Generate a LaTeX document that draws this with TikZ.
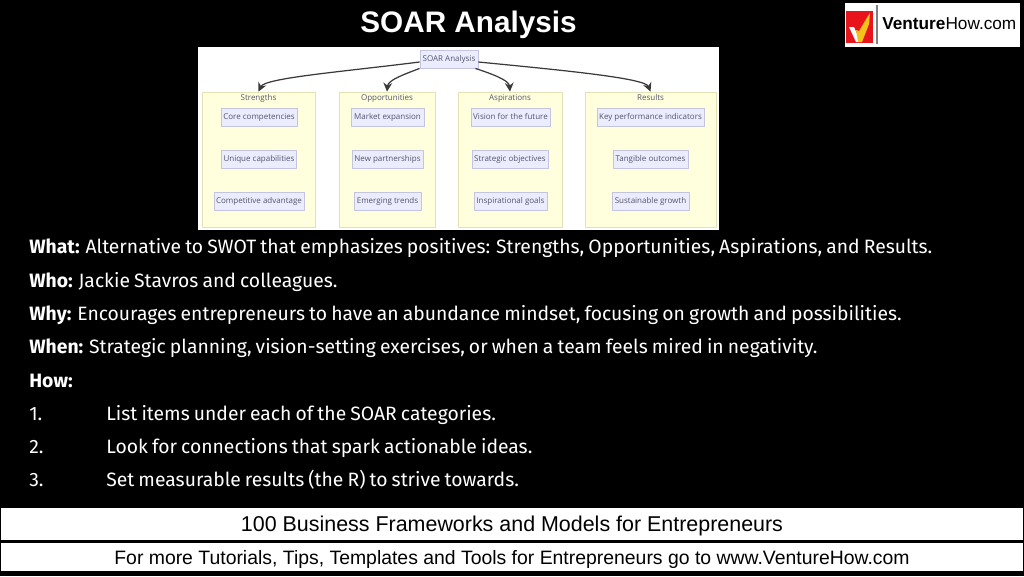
\documentclass[tikz,border=0pt]{standalone}
\usepackage{fontspec}
\setmainfont{Liberation Sans}
\newfontfamily\bodyfont{Open Sans}
\newfontfamily\linefont[WordSpace=0.8]{Fira Sans}
\usetikzlibrary{arrows.meta, positioning}
\definecolor{boxfill}{HTML}{ECECFF}
\definecolor{boxline}{HTML}{C4C4DE}
\definecolor{groupfill}{HTML}{FFFFDE}
\definecolor{groupline}{HTML}{E2E2B4}
\definecolor{boxtext}{HTML}{55556A}
\definecolor{edgecol}{HTML}{3A3A3A}
\definecolor{logored}{HTML}{E8141C}
\definecolor{logoyellow}{HTML}{F5C21A}

\tikzset{
	panel/.style={fill=white, draw=none, inner sep=0pt, outer sep=0pt},
	bar/.style={panel, minimum width=1022*0.02cm, text depth=0pt},
	itembox/.style={draw=boxline, fill=boxfill, line width=0.5pt, inner sep=0pt, minimum height=18*0.02cm, text height=3.5pt, text depth=1pt, text=boxtext, font=\bodyfont\fontsize{4.55}{6}\selectfont},
	groupbox/.style={draw=groupline, fill=groupfill, line width=0.5pt, inner sep=0pt, minimum height=135*0.02cm},
	grouptitle/.style={text=boxtext, inner sep=0pt, text height=3.5pt, text depth=1pt, font=\bodyfont\fontsize{4.55}{6}\selectfont},
	link/.style={draw=edgecol, line width=0.7pt, -{Stealth[length=5pt,width=5pt]}},
	bodyline/.style={anchor=base west, inner sep=0pt, text=white, font=\linefont\fontsize{11}{12}\selectfont},
}

\begin{document}
\begin{tikzpicture}[x=0.02cm, y=-0.02cm, line join=round]
	\useasboundingbox (0,0) rectangle (1024,576);
	\fill[black] (0,0) rectangle (1024,576);
	
	\node[text=white, inner sep=0pt, font=\fontsize{16.9}{18}\selectfont\bfseries] (title) at (468.5,25) {SOAR Analysis};
	
	% --- logo ---
	\node[panel, minimum width=175*0.02cm, minimum height=44*0.02cm] (logo) at (932.5,24.5) {};
	\fill[logored] (846,11) rectangle (873,43);
	\fill[white] (849,27) -- (854,27) -- (858,36) -- (859,42) -- (856,42) -- cycle;
	\fill[logoyellow] (858,42) -- (856,30) -- (859,31) -- (868,16) -- (870,13) -- (869,24) -- (862,42) -- cycle;
	\draw[gray, line width=0.6pt] (877,5) -- (877,44);
	\node[anchor=base west, inner sep=0pt, font=\fontsize{9.8}{12}\selectfont] (logotext) at (882,29) {\textbf{Venture}How.com};
	
	% --- diagram ---
	\node[panel, minimum width=521*0.02cm, minimum height=183*0.02cm] (sheet) at (458.5,138.5) {};
	
	\node[groupbox, minimum width=113*0.02cm] (strengths) at (258.5,159.5) {};
	\node[groupbox, minimum width=96*0.02cm] (opportunities) at (387,159.5) {};
	\node[groupbox, minimum width=104*0.02cm] (aspirations) at (510,159.5) {};
	\node[groupbox, minimum width=131*0.02cm] (results) at (650.5,159.5) {};
	
	\foreach \grp/\txt in {strengths/Strengths, opportunities/Opportunities, aspirations/Aspirations, results/Results}{
		\node[grouptitle, below=1.2pt of \grp.north] (\grp title) {\txt};
	}
	
	\node[itembox, minimum width=76*0.02cm] (core) at (259,117.5) {Core competencies};
	\node[itembox, minimum width=75*0.02cm] (unique) at (259,159) {Unique capabilities};
	\node[itembox, minimum width=90*0.02cm] (competitive) at (259,201) {Competitive advantage};
	
	\node[itembox, minimum width=73*0.02cm] (market) at (387.5,117.5) {Market expansion};
	\node[itembox, minimum width=71*0.02cm] (partners) at (387.5,159) {New partnerships};
	\node[itembox, minimum width=67*0.02cm] (emerging) at (387.5,201) {Emerging trends};
	
	\node[itembox, minimum width=79*0.02cm] (vision) at (510.5,117.5) {Vision for the future};
	\node[itembox, minimum width=76*0.02cm] (strategic) at (510,159) {Strategic objectives};
	\node[itembox, minimum width=73*0.02cm] (inspire) at (510.5,201) {Inspirational goals};
	
	\node[itembox, minimum width=107*0.02cm] (kpi) at (650.5,117.5) {Key performance indicators};
	\node[itembox, minimum width=75*0.02cm] (tangible) at (650.5,159) {Tangible outcomes};
	\node[itembox, minimum width=77*0.02cm] (sustain) at (650.5,201) {Sustainable growth};
	
	\node[itembox, minimum width=58*0.02cm] (soar) at (449,59) {SOAR Analysis};
	
	\draw[link] (soar.west) ++(0,3) .. controls (340,72) and (265,78) .. (strengths.north);
	\draw[link] (soar.south west) .. controls (405,74) and (388,80) .. (opportunities.north);
	\draw[link] (soar.south east) ++(-3,0) .. controls (492,74) and (509,80) .. (aspirations.north);
	\draw[link] (soar.east) ++(0,3) .. controls (560,70) and (645,78) .. (results.north);
	
	% --- text block ---
	\node[bodyline] (what) at (29,253) {\textbf{What:} Alternative to SWOT that emphasizes positives: Strengths, Opportunities, Aspirations, and Results.};
	\node[bodyline] (who) at (29,287) {\textbf{Who:} Jackie Stavros and colleagues.};
	\node[bodyline] (why) at (29,320) {\textbf{Why:} Encourages entrepreneurs to have an abundance mindset, focusing on growth and possibilities.};
	\node[bodyline] (when) at (29,353) {\textbf{When:} Strategic planning, vision-setting exercises, or when a team feels mired in negativity.};
	\node[bodyline] (how) at (29,387) {\textbf{How:}};
	
	\foreach \num/\yy/\txt in {1/420/List items under each of the SOAR categories., 2/453/Look for connections that spark actionable ideas., 3/486/Set measurable results (the R) to strive towards.}{
		\node[bodyline] (num\num) at (29,\yy) {\num.};
		\node[bodyline] (step\num) at (106,\yy) {\txt};
	}
	
	% --- footer bars ---
	\node[bar, minimum height=32*0.02cm, font=\fontsize{12.2}{14}\selectfont] (barone) at (512,524) {100 Business Frameworks and Models for Entrepreneurs};
	\node[bar, minimum height=28*0.02cm, font=\fontsize{11.04}{13}\selectfont] (bartwo) at (512,557) {For more Tutorials, Tips, Templates and Tools for Entrepreneurs go to www.VentureHow.com};
\end{tikzpicture}
\end{document}
